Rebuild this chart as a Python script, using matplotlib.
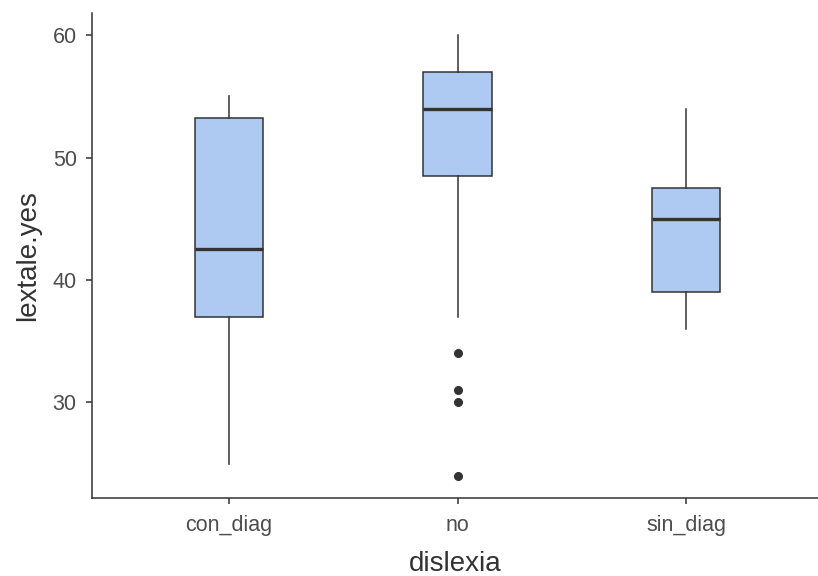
import matplotlib.pyplot as plt

plt.rcParams['font.family'] = ['Liberation Sans', 'DejaVu Sans']

groups = ['con_diag', 'no', 'sin_diag']
whislo = [25, 37, 36]
q1 = [37, 48.5, 39]
med = [42.5, 54, 45]
q3 = [53.25, 57, 47.5]
whishi = [55, 60, 54]
fliers = [[], [34, 31, 30, 24], []]

box_fill = '#aecaf2'
dark = '#333333'

stats = []
for i, name in enumerate(groups):
    stats.append({'label': name, 'whislo': whislo[i], 'q1': q1[i], 'med': med[i],
                  'q3': q3[i], 'whishi': whishi[i], 'fliers': fliers[i]})

fig = plt.figure(figsize=(8.18, 5.76), dpi=100)
ax = fig.add_axes([92 / 818, 78 / 576, 726 / 818, 485 / 576])

ax.bxp(stats, positions=[1, 2, 3], widths=0.3, patch_artist=True, showcaps=False,
       boxprops=dict(facecolor=box_fill, edgecolor=dark, linewidth=1.1),
       whiskerprops=dict(color=dark, linewidth=1.1),
       medianprops=dict(color=dark, linewidth=2.4),
       flierprops=dict(marker='o', markerfacecolor=dark, markeredgecolor=dark,
                       markersize=5.5, linestyle='none'))

ax.set_xlim(0.4, 3.578)
ax.set_ylim(22.2, 61.8)
ax.set_yticks([30, 40, 50, 60])

for side in ['top', 'right']:
    ax.spines[side].set_visible(False)
for side in ['left', 'bottom']:
    ax.spines[side].set_color(dark)
    ax.spines[side].set_linewidth(1.1)

ax.tick_params(axis='both', colors=dark, length=4, width=1.1, labelsize=15.5,
               labelcolor='#4d4d4d')
ax.tick_params(axis='x', pad=8)
ax.tick_params(axis='y', pad=7)
ax.set_xlabel('dislexia', fontsize=20, color='#333333', labelpad=11)
ax.set_ylabel('lextale.yes', fontsize=20, color='#333333', labelpad=8)

fig.savefig('out.png', dpi=100)
